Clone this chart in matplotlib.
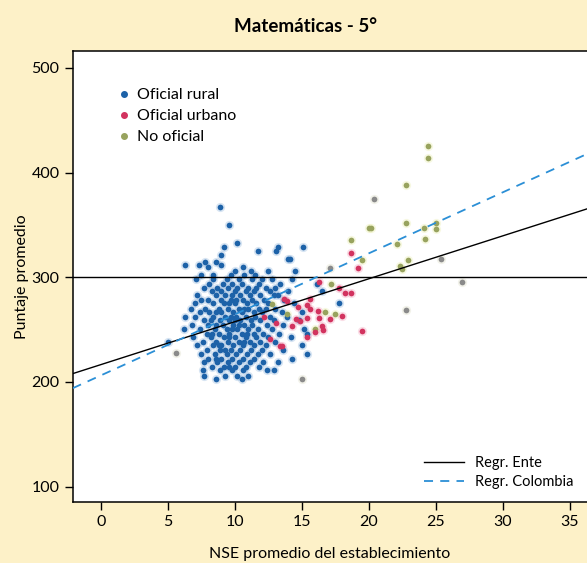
import matplotlib
matplotlib.use("Agg")
import matplotlib.pyplot as plt
from matplotlib.lines import Line2D

plt.rcParams['font.family'] = ['Lato', 'DejaVu Sans']

# Oficial rural: rows of (y, [x values])
rural_rows = [
    (367, [8.9]),
    (350, [9.6]),
    (333, [10.2]),
    (329, [9.2, 13.2, 15.1]),
    (325, [11.7, 13.1]),
    (321, [9.0]),
    (317, [14.0, 14.1]),
    (315, [7.8, 8.6]),
    (312, [6.3, 9.0, 7.3]),
    (310, [8.0, 10.6]),
    (306, [10.0, 12.5, 14.5, 11.2]),
    (302, [7.5, 10.7, 11.5, 8.4, 9.7]),
    (298, [8.4, 9.4, 11.3, 12.0, 14.3, 7.1, 10.3, 12.8]),
    (294, [9.8, 8.1, 10.5, 11.8, 13.4, 9.1, 16.1]),
    (290, [11.0, 9.5, 8.7, 10.2, 12.3, 13.0, 7.7, 11.6]),
    (287, [9.0, 10.0, 10.8, 11.4, 12.6, 8.3, 14.0, 16.5]),
    (283, [7.2, 8.6, 9.3, 10.4, 11.1, 11.9, 13.2, 9.8, 12.9]),
    (278, [8.0, 9.0, 9.7, 10.6, 11.3, 12.2, 13.7, 7.5, 10.1]),
    (275, [7.0, 8.4, 9.2, 10.0, 10.9, 11.6, 12.5, 14.4, 17.8, 9.6]),
    (270, [7.8, 8.8, 9.5, 10.3, 11.0, 11.8, 13.0, 6.7, 10.7, 12.3]),
    (267, [8.1, 9.0, 9.9, 10.5, 11.4, 12.0, 13.5, 7.4, 15.0, 8.6]),
    (262, [7.0, 8.4, 9.3, 10.1, 10.8, 11.5, 12.6, 13.9, 9.7, 6.3]),
    (259, [7.7, 8.9, 9.6, 10.4, 11.2, 11.9, 12.9, 8.2, 14.8, 10.0]),
    (254, [6.8, 8.0, 9.1, 9.9, 10.7, 11.3, 12.4, 13.6, 8.6, 10.3]),
    (251, [7.4, 8.5, 9.4, 10.2, 11.0, 11.7, 12.8, 15.2, 9.8, 6.2]),
    (246, [7.9, 8.8, 9.6, 10.5, 11.4, 12.1, 13.3, 15.4, 8.3, 10.9]),
    (243, [6.9, 8.2, 9.2, 10.0, 10.8, 11.6, 12.5, 14.2, 9.6]),
    (238, [7.6, 8.6, 9.5, 10.3, 11.1, 11.9, 13.0, 5.0, 10.7]),
    (235, [7.2, 8.4, 9.0, 9.9, 10.6, 11.4, 12.3, 15.0, 8.8]),
    (230, [7.9, 8.9, 9.7, 10.4, 11.2, 12.0, 13.6, 9.3]),
    (227, [7.5, 8.5, 9.4, 10.1, 10.9, 11.7, 15.4, 12.6]),
    (222, [8.0, 9.0, 9.8, 10.6, 11.4, 14.3, 8.6]),
    (219, [7.7, 8.7, 9.5, 10.3, 11.1, 12.1, 13.2]),
    (214, [8.3, 9.2, 10.0, 10.8, 11.8, 9.6]),
    (211, [7.6, 8.9, 9.8, 10.6, 12.4, 12.9]),
    (206, [7.7, 9.3, 10.2, 11.0]),
    (203, [8.6, 10.5]),
]
rural_x = [x for y, xs in rural_rows for x in xs]
rural_y = [y for y, xs in rural_rows for x in xs]

# Oficial urbano
urbano_x = [18.7, 19.2, 16.3, 17.8, 18.2, 18.7, 15.6, 15.4, 16.2, 17.1, 18.0, 19.5,
            15.4, 14.9, 14.3, 13.1, 12.6, 13.5, 15.4, 16.0, 13.9, 14.7, 16.5, 13.7,
            15.6, 16.3, 14.6, 16.6, 13.4, 12.2]
urbano_y = [323, 309, 295, 290, 285, 285, 279, 273, 268, 260, 263, 249,
            261, 258, 253, 256, 241, 234, 243, 248, 277, 272, 253, 279,
            270, 261, 260, 250, 234, 262]

# No oficial
nooficial_x = [24.4, 24.4, 22.8, 20.0, 20.2, 22.8, 24.1, 25.0, 25.0, 24.2, 22.1, 22.9,
               22.3, 22.5, 18.7, 17.2, 12.8, 16.7, 17.5, 13.9, 16.0, 19.5]
nooficial_y = [425, 414, 388, 347, 347, 352, 347, 352, 346, 337, 332, 316,
               311, 308, 336, 294, 274, 267, 265, 265, 251, 316]

# otros (gris)
gris_x = [17.1, 15.0, 5.6, 25.4, 27.0, 22.8, 20.4]
gris_y = [309, 203, 228, 317, 295, 269, 375]

# Regresiones: intercepto, pendiente
reg_ente = (216.5, 4.1)
reg_colombia = (206.2, 5.83)
linea_ref = 300

fig = plt.figure(figsize=(5.87, 5.63), dpi=100)
fig.patch.set_facecolor('#fdf1c8')
ax = fig.add_axes([0.124, 0.108, 0.876, 0.801])
ax.set_facecolor('white')


def puntos(x, y, color, halo):
    ax.scatter(x, y, s=44, color=halo, alpha=0.35, linewidths=0, zorder=2)
    ax.scatter(x, y, s=17, color=color, linewidths=0, zorder=3)


puntos(rural_x, rural_y, '#1d62a8', '#8fb4dc')
puntos(gris_x, gris_y, '#8a8a8a', '#d9d9c0')
puntos(nooficial_x, nooficial_y, '#98a35e', '#e8ecaa')
puntos(urbano_x, urbano_y, '#d2335f', '#f0a0b8')

ax.axhline(linea_ref, color='black', lw=1, zorder=4)
ax.axline((0, reg_ente[0]), slope=reg_ente[1], color='black', lw=1, zorder=4)
ax.axline((0, reg_colombia[0]), slope=reg_colombia[1], color='#2b8fd6', lw=1.3,
          dashes=(5, 4), zorder=4)

ax.set_xlim(-2.1, 36.3)
ax.set_ylim(85, 516)
ax.set_xticks(range(0, 36, 5))
ax.set_yticks(range(100, 501, 100))
ax.spines['right'].set_visible(False)
for s in ['left', 'top', 'bottom']:
    ax.spines[s].set_linewidth(1.1)
ax.tick_params(labelsize=11.5, length=6, width=1, direction='out')

ax.set_xlabel('NSE promedio del establecimiento', fontsize=11.5, labelpad=13)
ax.set_ylabel('Puntaje promedio', fontsize=11.5, labelpad=2)
fig.text(0.52, 0.953, 'Matemáticas - 5°', ha='center', va='center',
         fontsize=13.5, fontweight='bold')

h1 = [Line2D([], [], marker='o', ls='', color=c, markersize=4)
      for c in ['#1d62a8', '#d2335f', '#98a35e']]
leg1 = ax.legend(h1, ['Oficial rural', 'Oficial urbano', 'No oficial'],
                 loc='upper left', bbox_to_anchor=(0.06, 0.95), frameon=False,
                 fontsize=11.5, handlelength=0.8, handletextpad=0.4,
                 labelspacing=0.42)
ax.add_artist(leg1)
h2 = [Line2D([], [], color='black', lw=1),
      Line2D([], [], color='#2b8fd6', lw=1.3, dashes=(5, 4))]
ax.legend(h2, ['Regr. Ente', 'Regr. Colombia'], loc='lower right',
          bbox_to_anchor=(1.0, 0.0), frameon=False, fontsize=10.5,
          handlelength=2.7, handletextpad=0.8, labelspacing=0.35)

fig.savefig('out.png', dpi=100, facecolor=fig.get_facecolor())
